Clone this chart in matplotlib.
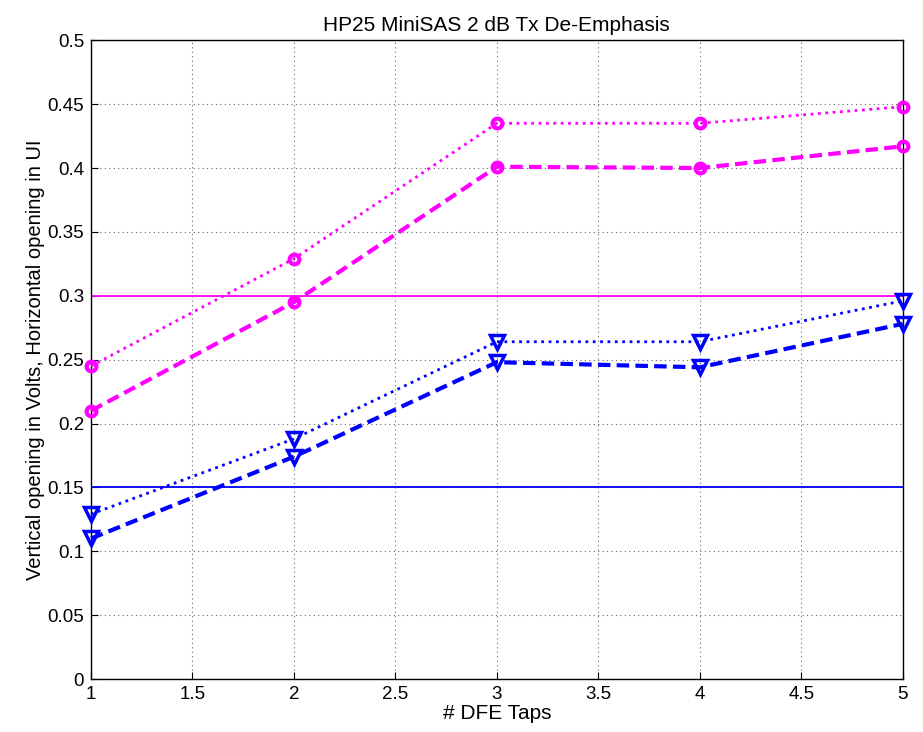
import matplotlib
matplotlib.use("Agg")
import matplotlib.pyplot as plt

taps = [1, 2, 3, 4, 5]
volt_dotted = [0.245, 0.329, 0.435, 0.435, 0.448]
volt_dashed = [0.210, 0.295, 0.401, 0.400, 0.417]
ui_dotted = [0.129, 0.188, 0.264, 0.264, 0.296]
ui_dashed = [0.110, 0.174, 0.248, 0.244, 0.278]
volt_limit = 0.3
ui_limit = 0.15

xticks = [1, 1.5, 2, 2.5, 3, 3.5, 4, 4.5, 5]
xticklabels = ["1", "1.5", "2", "2.5", "3", "3.5", "4", "4.5", "5"]
yticks = [0, 0.05, 0.1, 0.15, 0.2, 0.25, 0.3, 0.35, 0.4, 0.45, 0.5]
yticklabels = ["0", "0.05", "0.1", "0.15", "0.2", "0.25", "0.3", "0.35", "0.4", "0.45", "0.5"]

plt.rcParams['font.family'] = ['Liberation Sans', 'DejaVu Sans']
plt.rcParams['font.size'] = 13.5

fig = plt.figure(figsize=(9.23, 7.32), dpi=100)
ax = fig.add_axes([0.0986, 0.0724, 0.8794, 0.8726])

mag = '#ff00ff'
blu = '#0000ff'
ax.axhline(volt_limit, color=mag, lw=1.3, zorder=2)
ax.axhline(ui_limit, color=blu, lw=1.3, zorder=2)

ax.plot(taps, volt_dotted, linestyle=':', color=mag, lw=2, marker='o', ms=7,
        mfc='none', mec=mag, mew=3, zorder=3, clip_on=False)
ax.plot(taps, volt_dashed, linestyle='--', color=mag, lw=3, marker='o', ms=7,
        mfc='none', mec=mag, mew=3, dashes=(3, 1.5), zorder=3, clip_on=False)
ax.plot(taps, ui_dotted, linestyle=':', color=blu, lw=2, marker='v', ms=10,
        mfc='none', mec=blu, mew=2.5, zorder=3, clip_on=False)
ax.plot(taps, ui_dashed, linestyle='--', color=blu, lw=3, marker='v', ms=10,
        mfc='none', mec=blu, mew=2.5, dashes=(3, 1.5), zorder=3, clip_on=False)

ax.set_xlim(1, 5)
ax.set_ylim(0, 0.5)
ax.set_xticks(xticks)
ax.set_xticklabels(xticklabels)
ax.set_yticks(yticks)
ax.set_yticklabels(yticklabels)
ax.tick_params(direction='in', length=5, top=False, right=False, pad=5)
ax.grid(True, linestyle=(0, (1, 3)), color='black', lw=0.8, alpha=0.6)
for s in ax.spines.values():
    s.set_color('black')
    s.set_linewidth(1)

ax.set_title("HP25 MiniSAS 2 dB Tx De-Emphasis", fontsize=15, pad=7)
ax.set_xlabel("# DFE Taps", fontsize=15, labelpad=1)
ax.set_ylabel("Vertical opening in Volts, Horizontal opening in UI", fontsize=14.5, labelpad=2)

fig.savefig("out.png", dpi=100)
